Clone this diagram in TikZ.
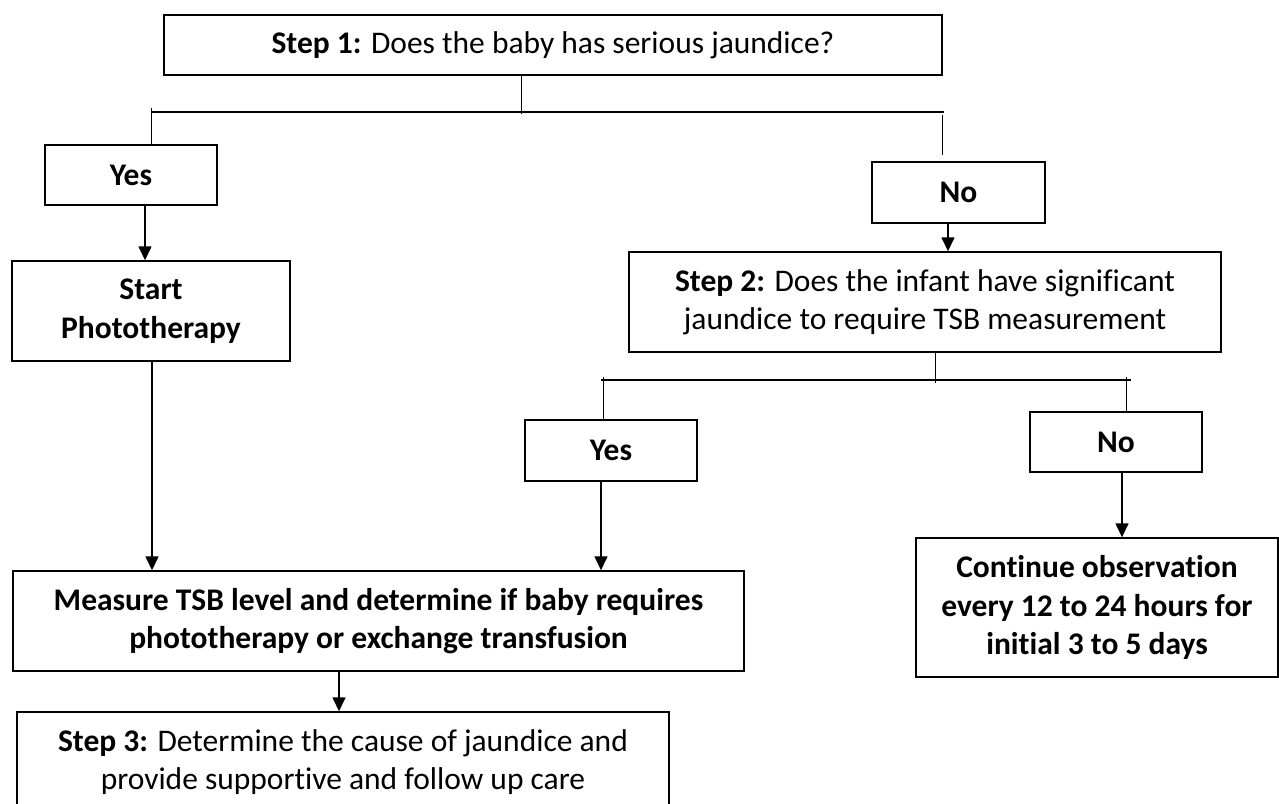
\documentclass[tikz,border=0pt]{standalone}
\usepackage{fontspec}
\setmainfont[Ligatures=NoCommon]{Carlito}
\usetikzlibrary{arrows.meta}
\begin{document}
\begin{tikzpicture}[x=1pt,y=-1pt,
  box/.style={draw, line width=1.4pt, align=center, inner sep=0pt, font=\fontsize{31.5}{38}\selectfont},
  bbox/.style={box, font=\fontsize{31.5}{38.5}\selectfont\bfseries},
  conn/.style={line width=1.4pt},
  thin/.style={line width=1pt},
  arr/.style={line width=1.4pt, -{Triangle[length=14pt,width=13pt]}}]
\clip (0,0) rectangle (1279,803);
\fill[white] (0,0) rectangle (1279,803);
% nodes
\node[box, minimum width=778pt, minimum height=60pt] (s1) at (553,45) {\textbf{Step 1:} Does the baby has serious jaundice?};
\node[bbox, minimum width=172pt, minimum height=60pt] (yes1) at (131,175) {Yes};
\node[bbox, minimum width=173pt, minimum height=61pt] (no1) at (958.5,192.5) {No};
\node[bbox, minimum width=278pt, minimum height=100pt] (start) at (151,311) {Start\\Phototherapy};
\node[box, minimum width=592pt, minimum height=100pt] (s2) at (925,302) {\textbf{Step 2:} Does the infant have significant\\jaundice to require TSB measurement};
\node[bbox, minimum width=172pt, minimum height=61pt] (yes2) at (611,450.5) {Yes};
\node[bbox, minimum width=172pt, minimum height=60pt] (no2) at (1116,442) {No};
\node[bbox, minimum width=731pt, minimum height=100pt] (meas) at (378.5,621) {Measure TSB level and determine if baby requires\\phototherapy or exchange transfusion};
\node[bbox, minimum width=362pt, minimum height=139pt] (cont) at (1097,607.5) {Continue observation\\every 12 to 24 hours for\\initial 3 to 5 days};
\node[box, minimum width=652pt, minimum height=100pt] (s3) at (343,762) {\textbf{Step 3:} Determine the cause of jaundice and\\provide supportive and follow up care};
% coordinates
\coordinate (j1) at (521,114);
\coordinate (hL) at (151,112);
\coordinate (hR) at (944,112);
\coordinate (tL) at (151,108);
\coordinate (tR1) at (942,115);
\coordinate (tR2) at (942,155);
\coordinate (a1) at (145,0);
\coordinate (a2) at (152,0);
\coordinate (a3) at (948,0);
\coordinate (j2) at (935,383);
\coordinate (h2L) at (601,380);
\coordinate (h2R) at (1131,380);
\coordinate (t2L) at (603,377);
\coordinate (t2R) at (1126,377);
\coordinate (a4) at (601,0);
\coordinate (a5) at (1122,0);
\coordinate (a6) at (339,0);
% connectors
\draw[thin] (j1 |- s1.south) -- (j1);
\draw[conn] (hL) -- (hR);
\draw[thin] (tL) -- (tL |- yes1.north);
\draw[thin] (tR1) -- (tR2);
\draw[arr] (a1 |- yes1.south) -- (a1 |- start.north);
\draw[arr] (a2 |- start.south) -- (a2 |- meas.north);
\draw[arr] (a3 |- no1.south) -- (a3 |- s2.north);
\draw[thin] (j2 |- s2.south) -- (j2);
\draw[conn] (h2L) -- (h2R);
\draw[thin] (t2L) -- (t2L |- yes2.north);
\draw[thin] (t2R) -- (t2R |- no2.north);
\draw[arr] (a4 |- yes2.south) -- (a4 |- meas.north);
\draw[arr] (a5 |- no2.south) -- (a5 |- cont.north);
\draw[arr] (a6 |- meas.south) -- (a6 |- s3.north);
\end{tikzpicture}
\end{document}
